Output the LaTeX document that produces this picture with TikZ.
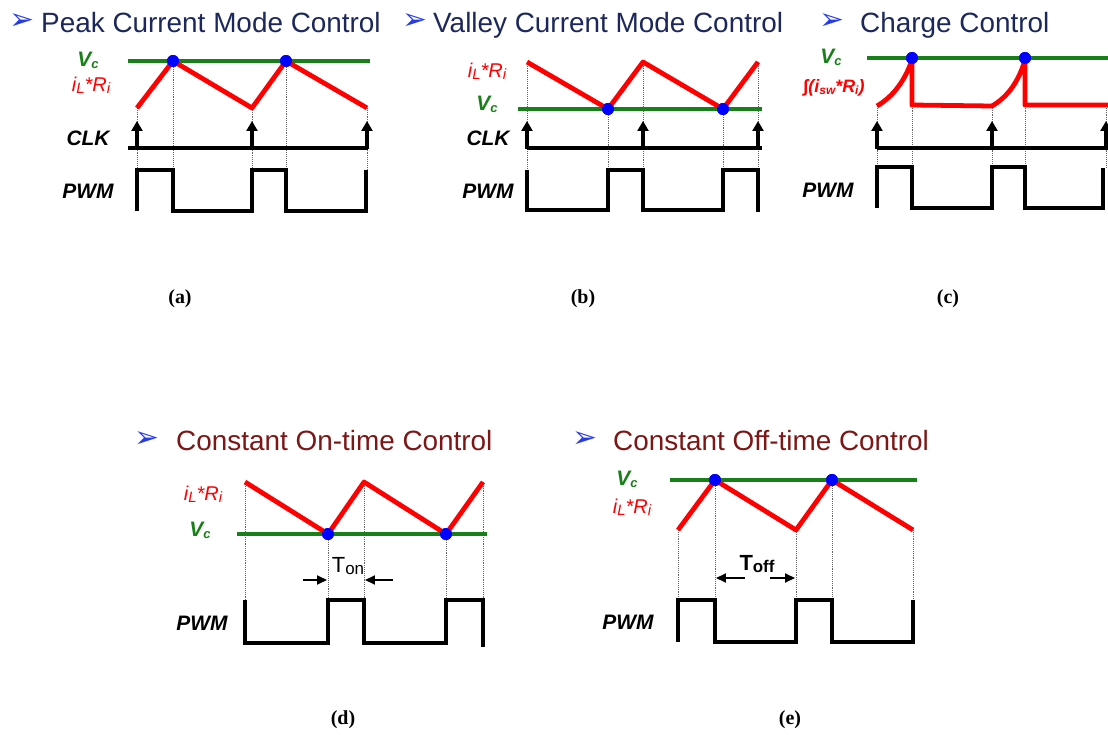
\documentclass[tikz,border=0pt]{standalone}
\usepackage{fontspec}
\setmainfont{Liberation Sans}
\newfontfamily\seriffont{Liberation Serif}
\newfontfamily\symfont{DejaVu Sans}
\usetikzlibrary{arrows.meta}
\definecolor{vgreen}{RGB}{24,128,24}
\definecolor{navy}{RGB}{28,40,92}
\definecolor{darkred}{RGB}{125,22,22}
\definecolor{bulletblue}{RGB}{40,60,230}
\newcommand\lowsub[2][13]{\raisebox{-0.2ex}{\fontsize{#1}{#1}\selectfont #2}}
\tikzset{
 vcline/.style={draw=vgreen,line width=4.5pt},
 curr/.style={draw=red,line width=4.8pt,line join=round},
 guide/.style={draw=black!60,densely dotted,line width=0.9pt},
 pwmline/.style={draw=black,line width=4.3pt,line join=miter},
 clkbase/.style={draw=black,line width=3.5pt},
 clkarrow/.style={draw=black,line width=3.5pt,-{Triangle[width=11pt,length=10pt]}},
 hit/.style={circle,fill=blue,inner sep=0pt,minimum size=12pt},
 sig/.style={font=\fontsize{21}{21}\selectfont\bfseries\itshape,inner sep=0pt},
 vclab/.style={sig,text=vgreen},
 ilab/.style={font=\fontsize{20}{20}\selectfont\itshape,text=red,inner sep=0pt},
 figcap/.style={font=\seriffont\bfseries\fontsize{20}{20}\selectfont,inner sep=0pt},
 ttl/.style={font=\fontsize{28}{28}\selectfont,anchor=base west,inner sep=0pt},
 bul/.style={font=\symfont\fontsize{30}{30}\selectfont,text=bulletblue,inner sep=0pt},
 meas/.style={draw=black,line width=2pt,-{Triangle[width=9pt,length=10pt]}},
}
\begin{document}
\begin{tikzpicture}[x=1bp,y=-1bp]
\useasboundingbox (0,0) rectangle (1108,735);
\clip (0,0) rectangle (1108,735);

% ---------------- titles ----------------
\node[bul] (ba) at (22,22) {➢};
\node[ttl,text=navy] (ta) at (41,33) {Peak Current Mode Control};
\node[bul] (bb) at (415,22) {➢};
\node[ttl,text=navy] (tb) at (433,33) {Valley Current Mode Control};
\node[bul] (bc) at (832,22) {➢};
\node[ttl,text=navy] (tc) at (860,33) {Charge Control};
\node[bul] (bd) at (147,440) {➢};
\node[ttl,text=darkred] (td) at (176,450) {Constant On-time Control};
\node[bul] (be) at (585,440) {➢};
\node[ttl,text=darkred] (te) at (613,450) {Constant Off-time Control};

% ---------------- (a) peak current mode ----------------
\node[hit] (a1) at (173,61) {};
\node[hit] (a2) at (286,61) {};
\coordinate (a0) at (137,108); \coordinate (av) at (252,108); \coordinate (a3) at (367,108);
\draw[guide] (a0) -- (137,170);
\draw[guide] (a1) -- (173,170);
\draw[guide] (av) -- (252,170);
\draw[guide] (a2) -- (286,170);
\draw[guide] (a3) -- (367,170);
\draw[vcline] (128,61) -- (370,61);
\draw[curr] (a0) -- (a1.center) -- (av) -- (a2.center) -- (a3);
\node[hit] at (a1) {};
\node[hit] at (a2) {};
\draw[clkbase] (128,148) -- (368,148);
\draw[clkarrow] (137,149) -- (137,121);
\draw[clkarrow] (252,149) -- (252,121);
\draw[clkarrow] (367,149) -- (367,121);
\draw[pwmline] (137,211) -- (137,170) -- (173,170) -- (173,211) -- (252,211) -- (252,170) -- (286,170) -- (286,211) -- (366,211) -- (366,170);
\node[vclab] (avc) at (88,60) {V\lowsub{c}};
\node[ilab] (ail) at (91,85) {i\lowsub[15]{L}*R\lowsub[15]{i}};
\node[sig] (aclk) at (88,138) {CLK};
\node[sig] (apwm) at (88,191) {PWM};
\node[figcap] (capa) at (180,299) {(a)};

% ---------------- (b) valley current mode ----------------
\node[hit] (b1) at (608,109) {};
\node[hit] (b2) at (723,109) {};
\coordinate (b0) at (527,62); \coordinate (bp) at (643,62); \coordinate (b3) at (758,62);
\draw[guide] (b0) -- (527,170);
\draw[guide] (b1) -- (608,170);
\draw[guide] (bp) -- (643,170);
\draw[guide] (b2) -- (723,170);
\draw[guide] (b3) -- (758,170);
\draw[vcline] (518,109) -- (762,109);
\draw[curr] (b0) -- (b1.center) -- (bp) -- (b2.center) -- (b3);
\node[hit] at (b1) {};
\node[hit] at (b2) {};
\draw[clkbase] (527,148) -- (762,148);
\draw[clkarrow] (527,149) -- (527,121);
\draw[clkarrow] (643,149) -- (643,121);
\draw[clkarrow] (758,149) -- (758,121);
\draw[pwmline] (527,170) -- (527,210) -- (608,210) -- (608,170) -- (643,170) -- (643,210) -- (723,210) -- (723,170) -- (758,170) -- (758,212);
\node[ilab] (bil) at (487,71) {i\lowsub[15]{L}*R\lowsub[15]{i}};
\node[vclab] (bvc) at (487,104) {V\lowsub{c}};
\node[sig] (bclk) at (488,138) {CLK};
\node[sig] (bpwm) at (488,191) {PWM};
\node[figcap] (capb) at (583,299) {(b)};

% ---------------- (c) charge control ----------------
\node[hit] (c1) at (912,58) {};
\node[hit] (c2) at (1025,58) {};
\coordinate (c0) at (877,106); \coordinate (cl) at (992,106); \coordinate (c3) at (1106,106);
\draw[guide] (c0) -- (877,168);
\draw[guide] (c1) -- (912,168);
\draw[guide] (cl) -- (992,168);
\draw[guide] (c2) -- (1025,168);
\draw[guide] (c3) -- (1106,168);
\draw[vcline] (867,58) -- (1112,58);
\draw[curr] (c0) .. controls (894,96) and (905,80) .. (912,60) -- (912,105) -- (cl)
  .. controls (1009,96) and (1019,80) .. (1025,60) -- (1025,105) -- (1112,105);
\node[hit] at (c1) {};
\node[hit] at (c2) {};
\draw[clkbase] (877,148) -- (1112,148);
\draw[clkarrow] (877,149) -- (877,121);
\draw[clkarrow] (992,149) -- (992,121);
\draw[clkarrow] (1106,149) -- (1106,121);
\draw[pwmline] (877,208) -- (877,167) -- (912,167) -- (912,208) -- (992,208) -- (992,167) -- (1025,167) -- (1025,208) -- (1103,208) -- (1103,168);
\node[vclab] (cvc) at (831,57) {V\lowsub{c}};
\node[sig,text=red,font=\fontsize{18}{18}\selectfont\bfseries\itshape] (cint) at (834,88) {∫(i\lowsub[12]{sw}*R\lowsub[12]{i})};
\node[sig] (cpwm) at (828,190) {PWM};
\node[figcap] (capc) at (948,299) {(c)};

% ---------------- (d) constant on-time ----------------
\node[hit] (d1) at (328,534) {};
\node[hit] (d2) at (446,534) {};
\coordinate (d0) at (245,482); \coordinate (dp) at (364,482); \coordinate (d3) at (483,482);
\draw[guide] (d0) -- (245,600);
\draw[guide] (d1) -- (328,600);
\draw[guide] (dp) -- (364,600);
\draw[guide] (d2) -- (446,600);
\draw[guide] (d3) -- (483,600);
\draw[vcline] (237,534) -- (487,534);
\draw[curr] (d0) -- (d1.center) -- (dp) -- (d2.center) -- (d3);
\node[hit] at (d1) {};
\node[hit] at (d2) {};
\draw[pwmline] (245,600) -- (245,643) -- (328,643) -- (328,600) -- (364,600) -- (364,643) -- (446,643) -- (446,600) -- (483,600) -- (483,647);
\coordinate (dl) at (303,580); \coordinate (dr) at (393,580);
\draw[meas] (dl) -- (327,580);
\draw[meas] (dr) -- (365,580);
\node[inner sep=0pt] (ton) at (348,566) {\fontsize{22}{22}\selectfont T\lowsub[17]{on}};
\node[ilab] (dil) at (203,494) {i\lowsub[15]{L}*R\lowsub[15]{i}};
\node[vclab] (dvc) at (200,530) {V\lowsub{c}};
\node[sig] (dpwm) at (202,623) {PWM};
\node[figcap] (capd) at (343,720) {(d)};

% ---------------- (e) constant off-time ----------------
\node[hit] (e1) at (715,480) {};
\node[hit] (e2) at (832,480) {};
\coordinate (e0) at (678,530); \coordinate (ev) at (796,530); \coordinate (e3) at (913,530);
\draw[guide] (e0) -- (678,600);
\draw[guide] (e1) -- (715,600);
\draw[guide] (ev) -- (796,600);
\draw[guide] (e2) -- (832,600);
\draw[guide] (e3) -- (913,600);
\draw[vcline] (670,480) -- (917,480);
\draw[curr] (e0) -- (e1.center) -- (ev) -- (e2.center) -- (e3);
\node[hit] at (e1) {};
\node[hit] at (e2) {};
\draw[pwmline] (678,642) -- (678,600) -- (715,600) -- (715,642) -- (796,642) -- (796,600) -- (832,600) -- (832,642) -- (913,642) -- (913,600);
\coordinate (el) at (745,578); \coordinate (er) at (770,578);
\draw[meas] (el) -- (716,578);
\draw[meas] (er) -- (795,578);
\node[inner sep=0pt] (toff) at (757,564) {\fontsize{22}{22}\selectfont\bfseries T\lowsub[17]{off}};
\node[vclab] (evc) at (627,479) {V\lowsub{c}};
\node[ilab] (eil) at (632,507) {i\lowsub[15]{L}*R\lowsub[15]{i}};
\node[sig] (epwm) at (628,622) {PWM};
\node[figcap] (cape) at (790,720) {(e)};
\end{tikzpicture}
\end{document}
